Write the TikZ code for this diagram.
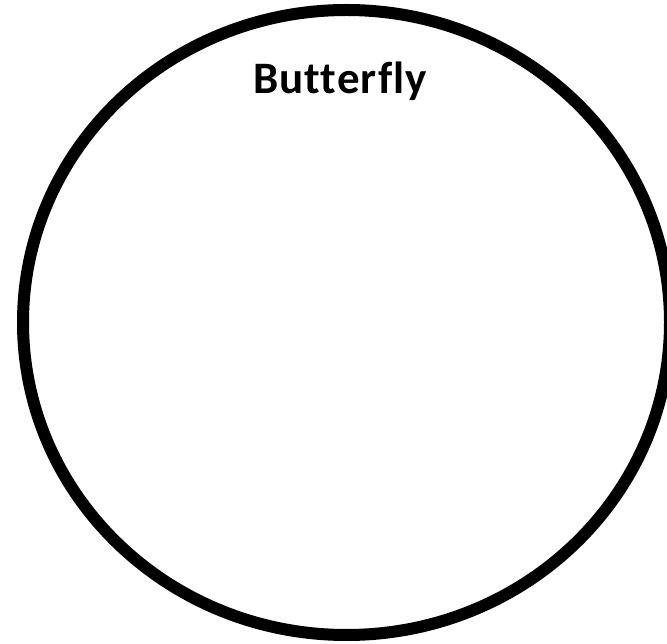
\documentclass[tikz,border=0pt]{standalone}
\usepackage{fontspec}
\setmainfont{Carlito}[Ligatures=NoCommon]
\newfontfamily\titlefont{Carlito}[Ligatures=NoCommon,LetterSpace=2.5]
\begin{document}
\begin{tikzpicture}[x=1pt,y=1pt,
  ring/.style={draw=black,line width=12pt},
  title/.style={font=\titlefont\bfseries\fontsize{45}{54}\selectfont,anchor=base,inner sep=0pt}]
\useasboundingbox (0,0) rectangle (667,643);
\draw[ring] (346.5,320.5) ellipse [x radius=323.5,y radius=312.5];
\node[title] (t) at (340,549) {Butterfly};
\end{tikzpicture}
\end{document}
